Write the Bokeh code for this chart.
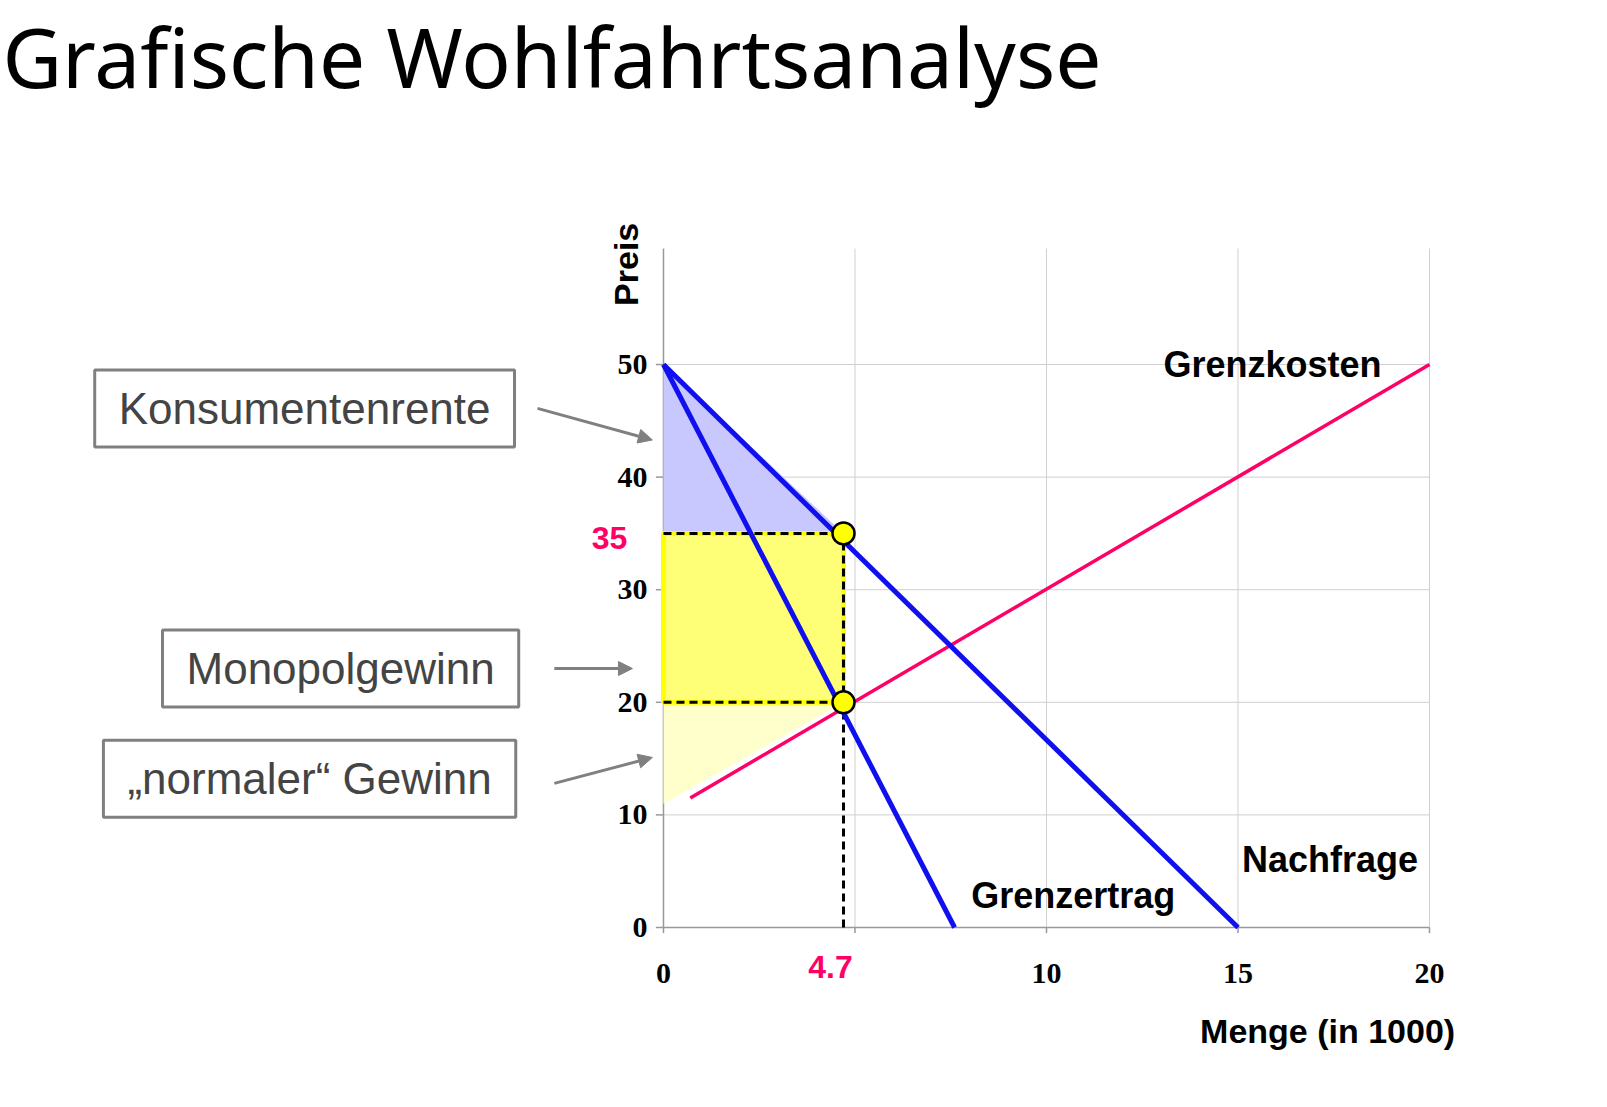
from bokeh.plotting import figure
from bokeh.models import Label, Arrow, NormalHead
from bokeh.embed import file_html
from bokeh.resources import INLINE

# data
demand_x = [0, 15]
demand_y = [50, 0]
mr_x = [0, 7.6]
mr_y = [50, 0]
mc_x = [0.7, 20]
mc_y = [11.5, 50]
q_mono = 4.7
p_mono = 35
mc_mono = 20
cs_x = [0, q_mono, 0]
cs_y = [50, p_mono, p_mono]
normal_x = [0, q_mono, 0]
normal_y = [mc_mono, mc_mono, 11]
x_ticks = [0, 5, 10, 15, 20]
x_labels = ["0", "", "10", "15", "20"]
y_ticks = [0, 10, 20, 30, 40, 50]
y_labels = ["0", "10", "20", "30", "40", "50"]
x_max = 20
y_max = 60.3

FONT = "Liberation Sans"

p = figure(width=1560, height=1080, x_range=(-17.31, 23.42), y_range=(-13.59, 82.33),
           output_backend="svg", toolbar_location=None, min_border=0)
p.outline_line_color = None
p.axis.visible = False
p.grid.visible = False

# grid
p.segment(x0=x_ticks[1:], y0=[0] * 4, x1=x_ticks[1:], y1=[y_max] * 4,
          line_color="#d0d0d0", line_width=1)
p.segment(x0=[0] * 5, y0=y_ticks[1:], x1=[x_max] * 5, y1=y_ticks[1:],
          line_color="#d0d0d0", line_width=1)
# axes
p.line([0, 0], [0, y_max], line_color="#999999", line_width=1.5)
p.line([0, x_max], [0, 0], line_color="#999999", line_width=1.5)
p.segment(x0=x_ticks, y0=[0] * 5, x1=x_ticks, y1=[-0.5] * 5, line_color="#999999", line_width=1.5)
p.segment(x0=[0] * 6, y0=y_ticks, x1=[-0.2] * 6, y1=y_ticks, line_color="#999999", line_width=1.5)
p.text(x=x_ticks, y=[-4.1] * 5, text=x_labels, text_font=FONT, text_font_size="30px",
       text_font_style="bold", text_align="center", text_baseline="middle")
p.text(x=[-0.42] * 6, y=y_ticks, text=y_labels, text_font=FONT, text_font_size="30px",
       text_font_style="bold", text_align="right", text_baseline="middle")

# areas
p.patch(cs_x, cs_y, fill_color="#c8c8ff", line_color=None)
p.patch(normal_x, normal_y, fill_color="#ffffcc", line_color=None)
p.quad(left=0, right=q_mono, bottom=mc_mono, top=p_mono,
       fill_color="#ffff77", line_color="#ffff00", line_width=5)

# dashed guides
p.line([0, q_mono], [p_mono, p_mono], line_color="black", line_width=3, line_dash="8 5")
p.line([0, q_mono], [mc_mono, mc_mono], line_color="black", line_width=3, line_dash="8 5")
p.line([q_mono, q_mono], [0, p_mono], line_color="black", line_width=3, line_dash="8 5")

# curves
p.line(mc_x, mc_y, line_color="#ff0066", line_width=3.5)
p.line(demand_x, demand_y, line_color="#1010ee", line_width=5)
p.line(mr_x, mr_y, line_color="#1010ee", line_width=5)

p.scatter([q_mono, q_mono], [p_mono, mc_mono], size=22, fill_color="#ffff00",
          line_color="black", line_width=2.5)


def lab(x, y, t, size="36px", color="black", **kw):
    p.add_layout(Label(x=x, y=y, text=t, text_font=FONT, text_font_size=size,
                       text_color=color, text_font_style="bold",
                       text_align="center", text_baseline="middle", **kw))


p.add_layout(Label(x=-17.26, y=77.4, text="Grafische Wohlfahrtsanalyse",
                   text_font="Noto Sans", text_font_size="82px", text_color="black",
                   text_align="left", text_baseline="middle"))

lab(15.9, 50.0, "Grenzkosten")
lab(17.4, 6.0, "Nachfrage")
lab(10.7, 2.85, "Grenzertrag")
lab(-1.41, 34.6, "35", size="32px", color="#ff0066")
lab(4.36, -3.55, "4.7", size="32px", color="#ff0066")
lab(-0.99, 58.9, "Preis", size="34px", angle=1.5708)
lab(17.34, -9.15, "Menge (in 1000)", size="34px")

boxes = [(-9.37, 46.1, "Konsumentenrente"),
         (-8.43, 23.0, "Monopolgewinn"),
         (-9.24, 13.2, "\u201enormaler\u201c Gewinn")]
for bx, by, t in boxes:
    p.add_layout(Label(x=bx, y=by, text=t, text_font=FONT, text_font_size="44px",
                       text_align="center", text_baseline="middle",
                       border_line_color="#808080", border_line_width=3,
                       background_fill_color="white", padding=(24, 14)))

arrows = [(-3.29, 46.1, -0.29, 43.3), (-2.85, 23.0, -0.81, 23.0), (-2.85, 12.8, -0.29, 15.1)]
for x0, y0, x1, y1 in arrows:
    p.add_layout(Arrow(x_start=x0, y_start=y0, x_end=x1, y_end=y1,
                       line_color="#808080", line_width=3,
                       end=NormalHead(size=14, fill_color="#808080", line_color="#808080")))

open("out.html", "w").write(file_html(p, INLINE))
